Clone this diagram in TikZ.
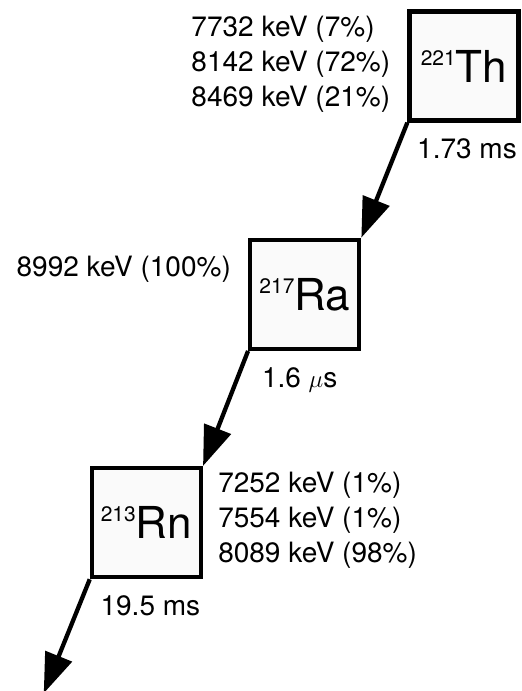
\documentclass[tikz,border=0pt]{standalone}
\usepackage{fontspec}
\setmainfont{TeX Gyre Heros}
\usepackage{tikz}
\usetikzlibrary{arrows.meta, positioning}
\definecolor{boxfill}{HTML}{FAFAFA}
\newcommand{\nuclide}[2]{\raisebox{17pt}{\fontsize{21}{21}\selectfont #1}{\fontsize{44}{44}\selectfont #2}}

\begin{document}
\begin{tikzpicture}[font=\fontsize{28}{35}\selectfont,
    nucbox/.style={rectangle, draw=black, fill=boxfill, line width=4.3pt, minimum size=109pt, inner sep=0pt},
    lifetime/.style={inner sep=0pt},
    energies/.style={inner sep=0pt, align=left}]

    \useasboundingbox (0,0) rectangle (522pt,-691pt);

    \node (th) [nucbox] at (464pt,-66pt) {\nuclide{221}{Th}};
    \node (ra) [nucbox, below left=115pt and 46pt of th] {\nuclide{217}{Ra}};
    \node (rn) [nucbox, below left=115pt and 45pt of ra] {\nuclide{213}{Rn}};
    \coordinate (out) at ([xshift=-46pt, yshift=-114pt]rn.south west);

    \node (th-t) [lifetime, below=16pt of th, xshift=3pt] {1.73 ms};
    \node (ra-t) [lifetime, below=16pt of ra, xshift=-5pt] {1.6 $\mu$s};
    \node (rn-t) [lifetime, below=16pt of rn, xshift=4pt] {19.5 ms};

    \node (th-e) [energies, left=17pt of th, yshift=2pt] {7732 keV (7\%)\\8142 keV (72\%)\\8469 keV (21\%)};
    \node (ra-e) [energies, left=17pt of ra, yshift=25pt] {8992 keV (100\%)};
    \node (rn-e) [energies, right=15pt of rn, yshift=2pt] {7252 keV (1\%)\\7554 keV (1\%)\\8089 keV (98\%)};

    \foreach \i/\j in {th.south west/ra.north east, ra.south west/rn.north east, rn.south west/out} {
      \draw [-{Triangle[length=40pt, width=28pt]}, line width=4.3pt] (\i) -- (\j);
    }
\end{tikzpicture}
\end{document}
